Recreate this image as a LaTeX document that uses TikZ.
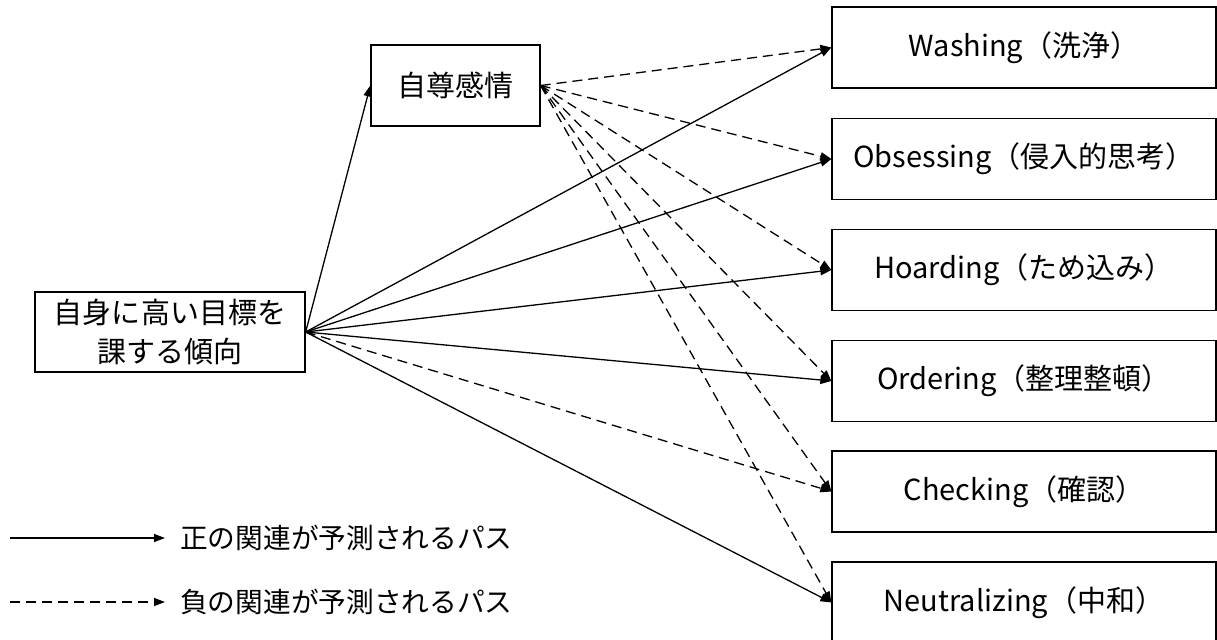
\documentclass[tikz,border=0pt]{standalone}
\usepackage{fontspec}
\setmainfont{Noto Sans CJK JP}
\usetikzlibrary{arrows.meta}
\begin{document}
\begin{tikzpicture}[x=1bp,y=-1bp,
  box/.style={draw,line width=1.3bp,inner sep=0pt,align=center,font=\fontsize{29bp}{39bp}\selectfont},
  rbox/.style={box,minimum width=384bp,minimum height=81bp},
  posarrow/.style={line width=1.3bp,-{Triangle[length=11bp,width=8bp]}},
  negarrow/.style={posarrow,dash pattern=on 10bp off 6bp},
  lbl/.style={anchor=west,inner sep=0pt,font=\fontsize{27.7bp}{32bp}\selectfont}]
\useasboundingbox (0,0) rectangle (1217,640);
\node[box,minimum width=270bp,minimum height=80bp] (src) at (170,332) {自身に高い目標を\\課する傾向};
\node[box,minimum width=169bp,minimum height=81bp] (se) at (455.5,85.5) {自尊感情};
\node[rbox] (wa) at (1024,47.5) {Washing（洗浄）};
\node[rbox] (ob) at (1024,159) {Obsessing（侵入的思考）};
\node[rbox] (ho) at (1024,270) {Hoarding（ため込み）};
\node[rbox] (or) at (1024,381) {Ordering（整理整頓）};
\node[rbox] (ch) at (1024,491.5) {Checking（確認）};
\node[rbox] (ne) at (1024,602.5) {Neutralizing（中和）};
\draw[posarrow] (src.east) -- (se.west);
\foreach \t in {wa,ob,ho,or,ne} \draw[posarrow] (src.east) -- (\t.west);
\draw[negarrow] (src.east) -- (ch.west);
\foreach \t in {wa,ob,ho,or,ch,ne} \draw[negarrow] (se.east) -- (\t.west);
\coordinate (l1a) at (10,538); \coordinate (l1b) at (165,538);
\coordinate (l2a) at (10,602); \coordinate (l2b) at (165,602);
\draw[posarrow] (l1a) -- (l1b);
\draw[negarrow] (l2a) -- (l2b);
\node[lbl] (t1) at (180,538) {正の関連が予測されるパス};
\node[lbl] (t2) at (180,602) {負の関連が予測されるパス};
\end{tikzpicture}
\end{document}
